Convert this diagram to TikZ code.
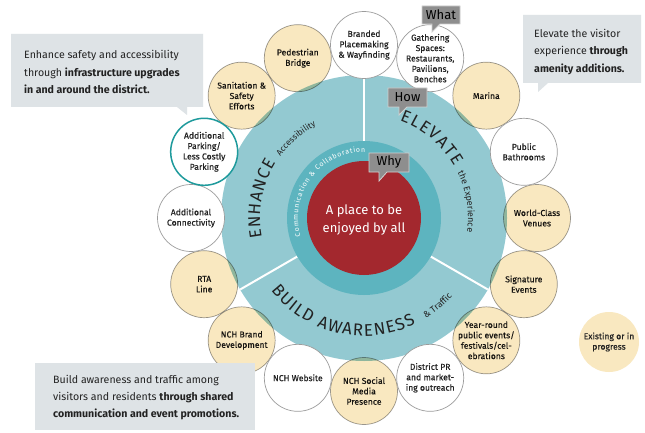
\documentclass[tikz,border=0pt]{standalone}
\usepackage{fontspec}
\setmainfont{Fira Sans}
\newfontfamily\spotfont{Fira Sans}[FakeBold=0.5]
\usetikzlibrary{decorations.text}

\definecolor{disk}{HTML}{93C9D1}
\definecolor{ringteal}{HTML}{5DB4BF}
\definecolor{corered}{HTML}{A3282E}
\definecolor{cream}{HTML}{F9E8C0}
\definecolor{notegray}{HTML}{DEE3E6}
\definecolor{taggray}{HTML}{8E8E8E}
\definecolor{tagrim}{HTML}{D0D0D0}
\definecolor{rimgray}{HTML}{9C9C9C}
\definecolor{parkteal}{HTML}{1E9A9C}
\definecolor{inkdark}{HTML}{222222}

\begin{document}
\begin{tikzpicture}[x=1pt,y=1pt,
  spot/.style={circle, draw=rimgray, line width=0.7pt, minimum size=67pt,
    inner sep=-5pt, align=center, text=inkdark, font=\spotfont\fontsize{8.6}{10.4}\selectfont},
  spotdone/.style={spot, fill=cream},
  spotnew/.style={spot, fill=white},
  notetext/.style={anchor=west, align=left, inner sep=0pt, text=inkdark,
    font=\fontsize{10.6}{17.2}\selectfont},
  tagshape/.style={fill=taggray, draw=tagrim, line width=0.8pt},
  tagtext/.style={inner sep=0pt, text=black, font=\fontsize{13}{14}\selectfont},
  divider/.style={white, line width=2pt},
  arctext/.style={decorate, decoration={text along path, text color=inkdark}},
]
\useasboundingbox (0,0) rectangle (645,432);
\fill[white] (0,0) rectangle (645,432);

\coordinate (C) at (364,214);

% --- central disk, rings and the three sectors ---
\begin{scope}[shift={(364,214)}]
  \fill[disk] (0,0) circle[radius=143];
  \foreach \a in {90,210,330} \draw[divider] (\a:77) -- (\a:143);
  \fill[ringteal] (0,0) circle[radius=77];
  \fill[corered] (0,0) circle[radius=57];
  \node[white, align=center, font=\fontsize{13}{18}\selectfont] (purpose) at (0,-2)
    {A place to be\\enjoyed by all};

  % sector titles along the band
  \path[arctext, decoration={text align={fit to path},
      text={|\fontsize{17}{17}\selectfont|ENHANCE}}]
    (191:104) arc[start angle=191, end angle=148, radius=104];
  \path[arctext, decoration={text align=center,
      text={|\fontsize{8.5}{9}\selectfont|Accessibility}}]
    (147:104) arc[start angle=147, end angle=114, radius=104];

  \path[arctext, decoration={text align={fit to path},
      text={|\fontsize{17}{17}\selectfont|ELEVATE}}]
    (70:104) arc[start angle=70, end angle=30, radius=104];
  \path[arctext, decoration={text align=center,
      text={|\fontsize{9}{9}\selectfont|the Experience}}]
    (28:104) arc[start angle=28, end angle=-10, radius=104];

  \path[arctext, decoration={text align={fit to path},
      text={|\fontsize{17}{17}\selectfont|BUILD AWARENESS}}]
    (218:118) arc[start angle=218, end angle=296, radius=118];
  \path[arctext, decoration={text align=center,
      text={|\fontsize{9}{9}\selectfont|{\&} Traffic}}]
    (297:118) arc[start angle=297, end angle=323, radius=118];

  \path[decorate, decoration={text along path, text color=white, text align={fit to path},
      text={|\fontsize{7}{7}\selectfont|Communication {\&} Collaboration}}]
    (196:66) arc[start angle=196, end angle=89, radius=66];

  % --- outer ring of initiatives ---
  \begin{scope}[blend mode=multiply]
    \node[spotdone] (marina)    at (45:173)     {Marina};
    \node[spotdone] (venues)    at (0:173)      {World-Class\\Venues};
    \node[spotdone] (signature) at (-22.5:173)  {Signature\\Events};
    \node[spotdone] (yearround) at (-45:173)    {Year-round\\public events/\\festivals/cel-\\ebrations};
    \node[spotdone] (social)    at (-90:173)    {NCH Social\\Media\\Presence};
    \node[spotdone] (brand)     at (-135:173)   {NCH Brand\\Development};
    \node[spotdone] (rta)       at (-157.5:173) {RTA\\Line};
    \node[spotdone] (sanitation) at (135:173)   {Sanitation \&\\Safety\\Efforts};
    \node[spotdone] (bridge)    at (112.5:173)  {Pedestrian\\Bridge};
  \end{scope}
  \node[spotnew] (branded)   at (90:173)     {Branded\\Placemaking\\\& Wayfinding};
  \node[spotnew] (gathering) at (67.5:173)   {Gathering\\Spaces:\\Restaurants,\\Pavilions,\\Benches};
  \node[spotnew] (bathrooms) at (22.5:173)   {Public\\Bathrooms};
  \node[spotnew] (districtpr) at (-67.5:173) {District PR\\and market-\\ing outreach};
  \node[spotnew] (website)   at (-112.5:173) {NCH Website};
  \node[spotnew] (connect)   at (180:173)    {Additional\\Connectivity};
  \node[spotnew, draw=parkteal, line width=1.5pt] (parking) at (157.5:173)
    {Additional\\Parking/\\Less Costly\\Parking};
\end{scope}

% --- What / How / Why tags ---
\path[tagshape] (422,408) -- (432,408) -- (432,400) -- (440,408) -- (460,408)
  -- (460,426) -- (422,426) -- cycle;
\node[tagtext] (whattag) at (441,417) {What};
\path[tagshape] (388,325) -- (399,325) -- (399,317) -- (407,325) -- (427,325)
  -- (427,344) -- (388,344) -- cycle;
\node[tagtext] (howtag) at (407.5,334.5) {How};
\path[tagshape] (369,260) -- (379,260) -- (379,251) -- (387,260) -- (409,260)
  -- (409,279) -- (369,279) -- cycle;
\node[tagtext] (whytag) at (389,269.5) {Why};

% --- callout notes ---
\fill[notegray] (11,325) -- (177,325) -- (187,317) -- (187,325) -- (203,325)
  -- (203,398) -- (11,398) -- cycle;
\node[notetext] (enhancenote) at (24,360)
  {Enhance safety and accessibility\\through \textbf{infrastructure upgrades}\\\textbf{in and around the district.}};

\fill[notegray] (523,349) -- (538,349) -- (538,340) -- (548,349) -- (641,349)
  -- (641,417) -- (523,417) -- cycle;
\node[notetext] (elevatenote) at (534,380)
  {Elevate the visitor\\experience \textbf{through}\\\textbf{amenity additions.}};

\fill[notegray] (35,2) rectangle (255,69);
\node[notetext] (buildnote) at (53,34.5)
  {Build awareness and traffic among\\visitors and residents \textbf{through shared}\\\textbf{communication and event promotions.}};

% --- legend ---
\node[circle, fill=cream, minimum size=60pt, inner sep=0pt, align=center, text=inkdark,
  font=\spotfont\fontsize{8.6}{10.4}\selectfont] (legend) at (609,90) {Existing or in\\progress};
\end{tikzpicture}
\end{document}
